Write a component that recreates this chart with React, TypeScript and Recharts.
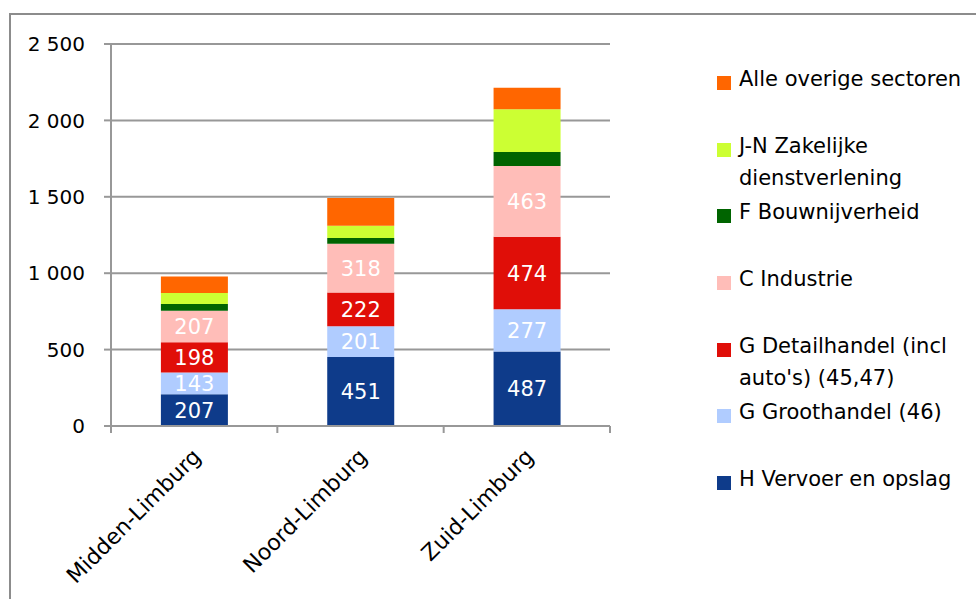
import React from "react"
import { BarChart, Bar, XAxis, YAxis, CartesianGrid, LabelList } from "recharts"

const regions = ["Midden-Limburg", "Noord-Limburg", "Zuid-Limburg"]

const vervoer = [207, 451, 487]
const groothandel = [143, 201, 277]
const detailhandel = [198, 222, 474]
const industrie = [207, 318, 463]
const bouw = [43, 39, 93]
const zakelijk = [72, 80, 279]
const overig = [109, 181, 141]

const yTicks = [0, 500, 1000, 1500, 2000, 2500]

const series = [
  { key: "vervoer", name: "H Vervoer en opslag", color: "#0E3B8A", values: vervoer, label: true },
  { key: "groothandel", name: "G Groothandel (46)", color: "#B0CCFF", values: groothandel, label: true },
  { key: "detailhandel", name: "G Detailhandel (incl auto's) (45,47)", color: "#E00E08", values: detailhandel, label: true },
  { key: "industrie", name: "C Industrie", color: "#FFBDB8", values: industrie, label: true },
  { key: "bouw", name: "F Bouwnijverheid", color: "#006400", values: bouw, label: false },
  { key: "zakelijk", name: "J-N Zakelijke dienstverlening", color: "#CCFF33", values: zakelijk, label: false },
  { key: "overig", name: "Alle overige sectoren", color: "#FF6600", values: overig, label: false },
]

const data = regions.map((region, i) => {
  const row: Record<string, any> = { region }
  series.forEach((s) => {
    row[s.key] = s.values[i]
  })
  return row
})

const FONT = "'DejaVu Sans', sans-serif"
const GRID = "#989898"
const PLOT_LEFT = 111
const PLOT_RIGHT = 610
const PLOT_TOP = 44
const PLOT_H = 382
const BAND = (PLOT_RIGHT - PLOT_LEFT) / regions.length

function fmt(v: number) {
  return String(v).replace(/\B(?=(\d{3})+(?!\d))/g, " ")
}

function XTick(props: any) {
  const { x, y, payload, index } = props
  const left = x - BAND / 2
  const ax = x + 8
  const ay = y + 24
  return (
    <g>
      <line x1={left} y1={y - 8} x2={left} y2={y - 1} stroke={GRID} strokeWidth={2} />
      {index === regions.length - 1 && (
        <line x1={left + BAND} y1={y - 8} x2={left + BAND} y2={y - 1} stroke={GRID} strokeWidth={2} />
      )}
      <text
        x={ax}
        y={ay}
        textAnchor="end"
        transform={`rotate(-45 ${ax} ${ay})`}
        fontSize={22}
        fontFamily={FONT}
        fill="#000"
      >
        {payload.value}
      </text>
    </g>
  )
}

function LegendBox() {
  const items = [...series].reverse()
  return (
    <div style={{ position: "absolute", left: 717, top: 67, width: 259, fontFamily: FONT, fontSize: 21, color: "#000" }}>
      {items.map((s) => (
        <div key={s.key} style={{ display: "flex", height: 66.7, alignItems: "flex-start" }}>
          <span
            style={{
              width: 14,
              height: 14,
              background: s.color,
              marginTop: 9,
              marginRight: 8,
              flexShrink: 0,
            }}
          />
          <span style={{ width: 237, lineHeight: "32px", marginTop: -4, whiteSpace: "normal" }}>{s.name}</span>
        </div>
      ))}
    </div>
  )
}

export default function App() {
  return (
    <div style={{ position: "absolute", left: 0, top: 0, width: 976, height: 599, background: "#fff", overflow: "hidden" }}>
      <div
        style={{
          position: "absolute",
          left: 9,
          top: 13,
          width: 1000,
          height: 700,
          border: "2px solid #8c8c8c",
          boxSizing: "border-box",
        }}
      />
      <div style={{ position: "absolute", left: 0, top: 0 }}>
        <BarChart
          width={976}
          height={599}
          data={data}
          margin={{ top: PLOT_TOP, right: 976 - PLOT_RIGHT, bottom: 0, left: 0 }}
          barCategoryGap="30%"
        >
          <CartesianGrid vertical={false} stroke={GRID} strokeWidth={2} />
          <XAxis
            dataKey="region"
            height={599 - PLOT_TOP - PLOT_H}
            axisLine={{ stroke: GRID, strokeWidth: 2 }}
            tickLine={false}
            tick={<XTick />}
            interval={0}
          />
          <YAxis
            width={PLOT_LEFT}
            domain={[0, 2500]}
            ticks={yTicks}
            tickFormatter={fmt}
            axisLine={{ stroke: GRID, strokeWidth: 2 }}
            tickLine={{ stroke: GRID, strokeWidth: 2 }}
            tickSize={7}
            tickMargin={19}
            tick={{ fontSize: 20, fontFamily: FONT, fill: "#000" }}
          />
          {series.map((s) => (
            <Bar key={s.key} dataKey={s.key} name={s.name} stackId="a" fill={s.color} isAnimationActive={false}>
              {s.label && (
                <LabelList dataKey={s.key} position="center" fill="#fff" fontSize={21} fontFamily={FONT} />
              )}
            </Bar>
          ))}
        </BarChart>
      </div>
      <LegendBox />
    </div>
  )
}
